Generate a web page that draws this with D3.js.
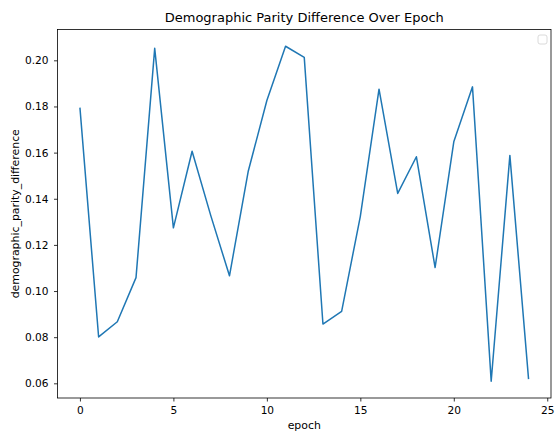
<!DOCTYPE html>
<html>
<head>
<meta charset="utf-8">
<script src="https://cdn.jsdelivr.net/npm/d3@7"></script>
<style>
  body { margin: 0; background: #fff; }
  svg { display: block; font-family: "DejaVu Sans", sans-serif; }
</style>
</head>
<body>
<svg id="chart"></svg>
<script>
// chart data
const epochs = d3.range(0, 25)
const parityDiff = [0.1795, 0.0801, 0.0867, 0.1058, 0.2052, 0.1274, 0.1606, 0.1327, 0.1066,
    0.1518, 0.1826, 0.2061, 0.2013, 0.0857, 0.0912, 0.1324, 0.1875, 0.1423, 0.1582,
    0.1102, 0.1647, 0.1885, 0.0609, 0.1588, 0.0618]
const xTicks = [0, 5, 10, 15, 20, 25]
const yTicks = [0.06, 0.08, 0.10, 0.12, 0.14, 0.16, 0.18, 0.20]

const svgw = 555, svgh = 435
const margin = { left: 57.5, right: 4, top: 29.5, bottom: 37 }
const w = svgw - margin.left - margin.right
const h = svgh - margin.top - margin.bottom

const svg = d3.select('#chart')
    .attr('width', svgw)
    .attr('height', svgh)

const g = svg.append('g')
    .attr('transform', `translate(${margin.left},${margin.top})`)

// matplotlib style 5% padding
const xPad = (d3.max(epochs) - d3.min(epochs)) * 0.05
const yExt = d3.extent(parityDiff)
const yPad = (yExt[1] - yExt[0]) * 0.05

const xScale = d3.scaleLinear()
    .domain([d3.min(epochs) - xPad, d3.max(epochs) + xPad])
    .range([0, w])
const yScale = d3.scaleLinear()
    .domain([yExt[0] - yPad, yExt[1] + yPad])
    .range([h, 0])

const line = d3.line()
    .x((d, i) => xScale(epochs[i]))
    .y(d => yScale(d))

g.append('path')
    .datum(parityDiff)
    .attr('d', line)
    .attr('fill', 'none')
    .attr('stroke', '#1f77b4')
    .attr('stroke-width', 1.5)
    .attr('stroke-linejoin', 'round')

const xAxis = d3.axisBottom(xScale)
    .tickValues(xTicks)
    .tickSize(3.5)
    .tickPadding(5)
    .tickFormat(d3.format('d'))
const yAxis = d3.axisLeft(yScale)
    .tickValues(yTicks)
    .tickSize(3.5)
    .tickPadding(5.5)
    .tickFormat(d3.format('.2f'))

const xg = g.append('g')
    .attr('transform', `translate(0,${h})`)
    .call(xAxis)
const yg = g.append('g')
    .call(yAxis)

for (const ax of [xg, yg]) {
    ax.select('.domain').remove()
    ax.selectAll('.tick line').attr('stroke', '#000').attr('stroke-width', 0.8)
    ax.selectAll('.tick text')
        .attr('fill', '#000')
        .style('font-family', '"DejaVu Sans", sans-serif')
        .style('font-size', '10.6px')
}

// frame
g.append('rect')
    .attr('width', w)
    .attr('height', h)
    .attr('fill', 'none')
    .attr('stroke', '#000')
    .attr('stroke-width', 0.8)

// empty legend
g.append('rect')
    .attr('x', w - 13)
    .attr('y', 5.5)
    .attr('width', 9)
    .attr('height', 9)
    .attr('rx', 2)
    .attr('fill', '#fff')
    .attr('stroke', '#d0d0d0')
    .attr('stroke-width', 0.8)

svg.append('text')
    .attr('x', margin.left + w / 2)
    .attr('y', 22)
    .attr('text-anchor', 'middle')
    .style('font-size', '13px')
    .text('Demographic Parity Difference Over Epoch')

svg.append('text')
    .attr('x', margin.left + w / 2)
    .attr('y', 429)
    .attr('text-anchor', 'middle')
    .style('font-size', '10.9px')
    .text('epoch')

svg.append('text')
    .attr('transform', `translate(18.5,${margin.top + h / 2}) rotate(-90)`)
    .attr('text-anchor', 'middle')
    .style('font-size', '10.9px')
    .text('demographic_parity_difference')
</script>
</body>
</html>
